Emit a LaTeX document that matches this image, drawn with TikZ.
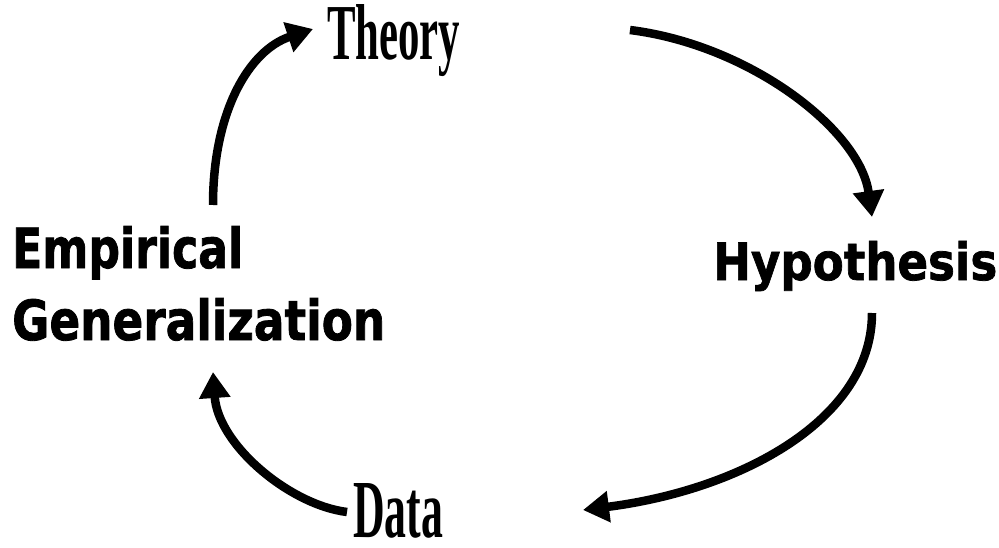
\documentclass[tikz,border=0pt]{standalone}
\usepackage{fontspec}
\usepackage{graphicx}
\newfontfamily\condserif{Liberation Serif}
\newfontfamily\heavysans{DejaVu Sans}[BoldFeatures={FakeBold=1.5}]
\usetikzlibrary{arrows.meta}
\begin{document}
\begin{tikzpicture}[x=1pt,y=-1pt,
  cyc/.style={line width=8.5pt, line cap=butt, -{Triangle[length=26pt,width=30pt]}},
  lbl/.style={inner sep=0pt, anchor=base west}]
\useasboundingbox[fill=white] (0,0) rectangle (999,548);
\node[lbl] (theory) at (327,60) {\resizebox{133pt}{55pt}{\condserif\bfseries Theory}};
\node[lbl] (data) at (353,537) {\resizebox{90pt}{54pt}{\condserif\bfseries Data}};
\node[lbl] (hyp) at (713,280) {\resizebox{284pt}{39pt}{\heavysans\bfseries Hypothesis}};
\node[lbl] (emp) at (12,340) {\vbox{\baselineskip=72pt\lineskiplimit=-200pt
  \hbox{\resizebox{231pt}{42pt}{\heavysans\bfseries Empirical}}
  \hbox{\resizebox{373pt}{42pt}{\heavysans\bfseries Generalization}}}};
\coordinate (empOut) at (213,205);
\coordinate (theoryIn) at (313,29);
\coordinate (theoryOut) at (630,30);
\coordinate (hypIn) at (872,217);
\coordinate (hypOut) at (872,313);
\coordinate (dataIn) at (583,510);
\coordinate (dataOut) at (347,512);
\coordinate (empIn) at (213,372);
\draw[cyc] (empOut) .. controls (213,110) and (250,50) .. (theoryIn);
\draw[cyc] (theoryOut) .. controls (750,45) and (860,130) .. (hypIn);
\draw[cyc] (hypOut) .. controls (872,420) and (740,490) .. (dataIn);
\draw[cyc] (dataOut) .. controls (290,505) and (218,445) .. (empIn);
\end{tikzpicture}
\end{document}
